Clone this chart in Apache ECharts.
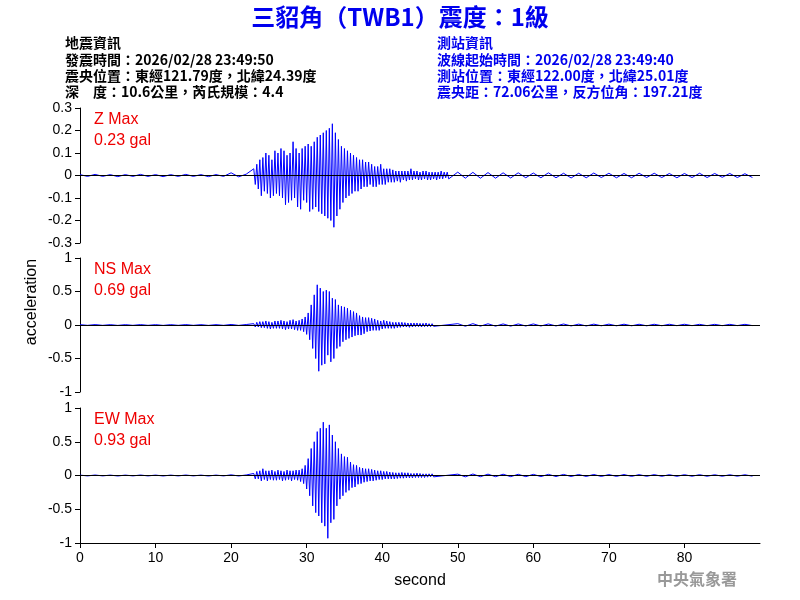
<!DOCTYPE html>
<html><head><meta charset="utf-8">
<script src="https://cdn.jsdelivr.net/npm/echarts@6/dist/echarts.min.js"></script>
<style>body{margin:0}#c{width:800px;height:600px}</style></head>
<body><div id="c"></div>
<script>
// active window 23.0 s .. 49.8 s, step 0.2 s
const activeStart = 23, activeStep = 0.2;
const zActive = [
.03,-.04,.05,-.06,.07, -.09,.08,-.07,.1,-.08, .09,-.1,.07,-.09,.11, -.08,.1,-.09,.12,-.1,
.11,-.13,.09,-.12,.1, -.11,.15,-.1,.12,-.14, .1,-.15,.12,-.11,.13, -.12,.14,-.16,.13,-.15,
.15,-.14,.17,-.16,.18, -.17,.19,-.18,.2,-.19, .21,-.2,.23,-.23,.19, -.18,.16,-.15,.13,-.12,
.12,-.1,.11,-.09,.1, -.08,.09,-.07,.08,-.07, .07,-.06,.07,-.05,.06, -.05,.06,-.04,.05,-.05,
.04,-.05,.04,-.04,.05, -.04,.03,-.04,.03,-.03, .03,-.03,.025,-.03,.02, -.025,.02,-.03,.02,-.02,
.02,-.025,.02,-.02,.03, -.02,.02,-.015,.02,-.02, .015,-.02,.02,-.015,.02, -.02,.015,-.02,.015,-.015,
.015,-.02,.015,-.015,.02, -.015,.015,-.01,.015,-.015];
const nsActive = [
.02,-.03,.04,-.03,.05, -.04,.05,-.04,.06,-.05, .05,-.06,.04,-.05,.06, -.05,.06,-.05,.07,-.06,
.06,-.07,.05,-.06,.07, -.06,.08,-.07,.06,-.08, .07,-.08,.09,-.1,.12, -.14,.18,-.22,.3,-.35,
.45,-.5,.6,-.69,.55, -.6,.5,-.58,.52,-.45, .5,-.55,.4,-.5,.38, -.35,.3,-.32,.28,-.25, .27,-.22,.25,-.2,.22,
-.18,.2,-.16,.18,-.15, .14,-.15,.12,-.13,.11, -.1,.11,-.09,.1,-.08, .09,-.08,.07,-.08,.06, -.06,.07,-.05,.06,-.05,
.05,-.05,.04,-.05,.04, -.04,.04,-.035,.04,-.03, .035,-.03,.03,-.035,.03, -.03,.03,-.025,.03,-.025,
.025,-.03,.025,-.025,.03, -.025,.02,-.025,.02,-.02];
const ewActive = [
.03,-.05,.06,-.05,.07, -.08,.1,-.06,.07,-.08, .07,-.06,.08,-.07,.06, -.07,.08,-.06,.07,-.08,
.06,-.07,.08,-.06,.07, -.08,.07,-.06,.08,-.07, .08,-.09,.1,-.12,.15, -.2,.25,-.3,.4,-.45,
.5,-.55,.65,-.6,.7, -.7,.79,-.75,.7,-.93, .75,-.7,.6,-.65,.5, -.45,.4,-.35,.32,-.3, .28,-.25,.27,-.22,.2,
-.18,.16,-.17,.15,-.13, .12,-.12,.11,-.1,.1, -.09,.1,-.08,.09,-.08, .08,-.07,.07,-.06,.07, -.06,.06,-.05,.06,-.05,
.05,-.05,.045,-.05,.04, -.045,.04,-.04,.045,-.04, .04,-.035,.04,-.035,.03, -.035,.03,-.03,.035,-.03,
.03,-.03,.025,-.03,.025, -.025,.025,-.02,.025,-.02];
// quiet parts, 1 s step: 0..22 s and 50..89 s
const zHead = [.004,-.004,.005,-.004,.004,-.005,.004,-.004,.005,-.004,.004,-.005,.004,-.004,.005,-.004,.004,-.005,.004,-.004,.012,-.006,.006];
const nsHead = [.005,-.005,.006,-.005,.005,-.006,.005,-.005,.006,-.005,.005,-.006,.005,-.005,.006,-.005,.005,-.006,.005,-.005,.008,-.006,.007];
const ewHead = [.006,-.006,.007,-.006,.006,-.007,.006,-.006,.007,-.006,.006,-.007,.006,-.006,.007,-.006,.006,-.007,.006,-.006,.01,-.007,.008];
const zTail = [.015,-.012,.014,-.012,.013,-.012,.012,-.011,.012,-.01,.011,-.01,.012,-.01,.01,-.011,.01,-.01,.011,-.009,.01,-.01,.009,-.01,.01,-.009,.01,-.009,.009,-.01,.009,-.009,.01,-.009,.009,-.008,.009,-.009,.008,-.009];
const nsTail = [.02,-.018,.02,-.017,.018,-.017,.016,-.017,.016,-.015,.016,-.015,.015,-.014,.015,-.014,.013,-.014,.013,-.012,.013,-.012,.012,-.012,.011,-.012,.011,-.011,.011,-.01,.011,-.01,.01,-.01,.01,-.01,.01,-.009,.01,-.009];
const ewTail = [.02,-.02,.022,-.018,.02,-.018,.019,-.017,.018,-.017,.017,-.016,.017,-.015,.016,-.015,.015,-.014,.015,-.014,.014,-.013,.014,-.013,.013,-.012,.013,-.012,.012,-.012,.012,-.011,.012,-.011,.011,-.011,.011,-.01,.011,-.01];
const zTicks=[-0.3,0.3,0.1], nTicks=[-1,1,0.5];

function build(head, act, tail){
  const d=[];
  head.forEach((v,i)=>d.push([i,v]));
  act.forEach((v,i)=>d.push([+(activeStart+i*activeStep).toFixed(2),v]));
  tail.forEach((v,i)=>d.push([50+i,v]));
  return d;
}
const series=[[zHead,zActive,zTail],[nsHead,nsActive,nsTail],[ewHead,ewActive,ewTail]];
const tops=[108,258,408], hs=[135,134,135];
const lab={fontFamily:'Arial',fontSize:14,color:'#000'};
const opt={animation:false,backgroundColor:'#fff',
 grid:tops.map((t,i)=>({left:80,right:40,top:t,height:hs[i]})),
 xAxis:[0,1,2].map(i=>({type:'value',gridIndex:i,min:0,max:90,interval:10,
   show:i===2,axisLine:{onZero:false,lineStyle:{color:'#000'}},axisTick:{length:5,lineStyle:{color:'#000'}},
   splitLine:{show:false},axisLabel:Object.assign({showMaxLabel:false},lab),
   name:i===2?'second':'',nameLocation:'middle',nameGap:30,nameTextStyle:{fontFamily:'Arial',fontSize:16,color:'#000'}})),
 yAxis:[0,1,2].map(i=>{const t=i===0?zTicks:nTicks;return {type:'value',gridIndex:i,min:t[0],max:t[1],interval:t[2],
   axisLine:{show:true,lineStyle:{color:'#000'}},axisTick:{show:true,length:5,lineStyle:{color:'#000'}},splitLine:{show:false},
   axisLabel:Object.assign({margin:8},lab)};}),
 series:series.map((s,i)=>({type:'line',xAxisIndex:i,yAxisIndex:i,data:build(...s),showSymbol:false,symbol:'none',
   lineStyle:{color:'#0000ff',width:1},
   markLine:{silent:true,symbol:'none',label:{show:false},lineStyle:{color:'#000',width:1,type:'solid'},data:[{yAxis:0}]}})),
 graphic:[
  {type:'text',left:'center',top:5,style:{text:'三貂角（TWB1）震度：1級',font:'bold 24px "Noto Sans CJK TC", Arial',fill:'#0000ee'}},
  {type:'text',left:65,top:35,style:{text:'地震資訊\n發震時間：2026/02/28 23:49:50\n震央位置：東經121.79度，北緯24.39度\n深　度：10.6公里，芮氏規模：4.4',font:'bold 14px "Noto Sans CJK TC", Arial',lineHeight:16.3,fill:'#000'}},
  {type:'text',left:437,top:35,style:{text:'測站資訊\n波線起始時間：2026/02/28 23:49:40\n測站位置：東經122.00度，北緯25.01度\n震央距：72.06公里，反方位角：197.21度',font:'bold 14px "Noto Sans CJK TC", Arial',lineHeight:16.3,fill:'#0000ee'}},
  {type:'text',left:94,top:109,style:{text:'Z Max\n0.23 gal',font:'16px Arial',lineHeight:21,fill:'#ee0000'}},
  {type:'text',left:94,top:259,style:{text:'NS Max\n0.69 gal',font:'16px Arial',lineHeight:21,fill:'#ee0000'}},
  {type:'text',left:94,top:409,style:{text:'EW Max\n0.93 gal',font:'16px Arial',lineHeight:21,fill:'#ee0000'}},
  {type:'text',x:32,y:302,rotation:Math.PI/2,style:{text:'acceleration',font:'16px Arial',fill:'#000',align:'center',verticalAlign:'middle'}},
  {type:'text',left:657,top:571,style:{text:'中央氣象署',font:'bold 16px "Noto Sans CJK TC"',fill:'#999'}}
 ]};
echarts.init(document.getElementById('c')).setOption(opt);
</script></body></html>
